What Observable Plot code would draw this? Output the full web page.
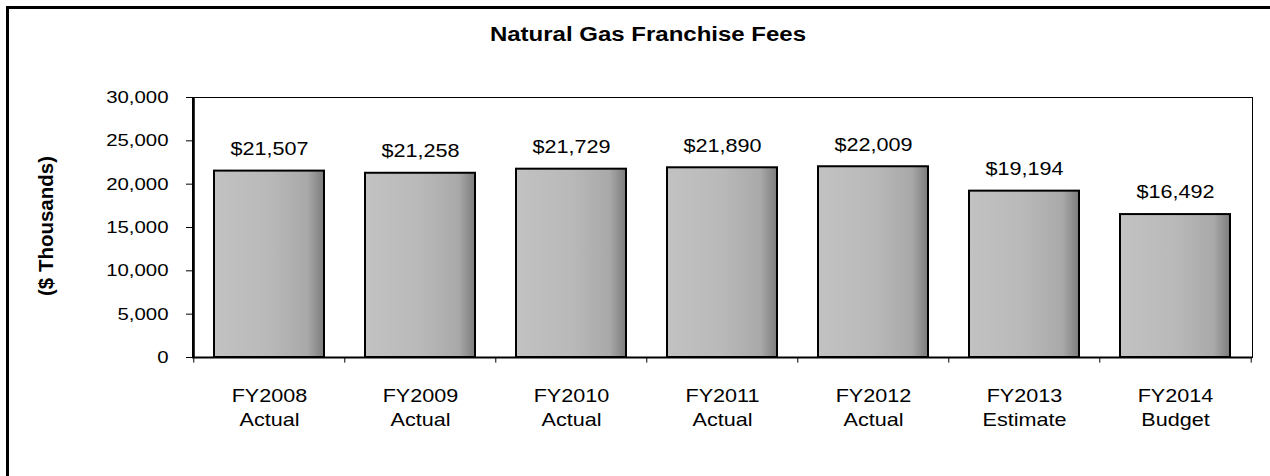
<!DOCTYPE html>
<html>
<head>
<meta charset="utf-8">
<script src="https://cdn.jsdelivr.net/npm/d3@7"></script>
<script src="https://cdn.jsdelivr.net/npm/@observablehq/plot@0.6"></script>
<style>
  html, body { margin: 0; padding: 0; background: #fff; }
  #wrap { position: relative; width: 1270px; height: 476px; overflow: hidden; font-family: "Liberation Sans", Arial, sans-serif; color: #000; }
  #border { position: absolute; left: 6px; top: 6px; width: 1300px; height: 520px; border-left: 3px solid #000; border-top: 3px solid #000; }
  #title { position: absolute; left: 648px; top: 34px; transform: translate(-50%, -50%) scaleX(1.2); font-weight: bold; font-size: 20px; white-space: nowrap; }
  #ylabel { position: absolute; left: 46px; top: 226px; transform: translate(-50%, -50%) rotate(-90deg); font-weight: bold; font-size: 20.5px; white-space: nowrap; }
  #chart { position: absolute; left: 0; top: 0; }
</style>
</head>
<body>
<div id="wrap">
  <div id="border"></div>
  <div id="chart"></div>
  <div id="title">Natural Gas Franchise Fees</div>
  <div id="ylabel">($ Thousands)</div>
</div>
<script>
// ---- data ----
const years  = ["FY2008", "FY2009", "FY2010", "FY2011", "FY2012", "FY2013", "FY2014"];
const stages = ["Actual", "Actual", "Actual", "Actual", "Actual", "Estimate", "Budget"];
const fees   = [21507, 21258, 21729, 21890, 22009, 19194, 16492];
const yTicks = [0, 5000, 10000, 15000, 20000, 25000, 30000];

const data = years.map((year, i) => ({year, stage: stages[i], fee: fees[i]}));

const W = 1270, H = 476, mL = 192, mR = 18, mT = 97, mB = 119;
const step = (W - mL - mR) / years.length;
const fmt = d3.format(",d");

const chart = Plot.plot({
  width: W, height: H,
  marginTop: mT, marginBottom: mB, marginLeft: mL, marginRight: mR,
  style: {fontFamily: "Liberation Sans, Arial, sans-serif", background: "transparent", color: "#000"},
  x: {domain: years, paddingInner: 0.27, paddingOuter: 0.135, label: null},
  y: {domain: [0, 30000], label: null},
  marks: [
    Plot.frame({stroke: "#000", strokeWidth: 1}),
    Plot.barY(data, {x: "year", y: "fee", fill: "url(#barFill)", stroke: "#000", strokeWidth: 2}),
    Plot.text(data, {x: "year", y: "fee", text: d => "$" + fmt(d.fee), dy: -22, fontSize: 18, lineAnchor: "middle", fill: "#000"}),
    Plot.axisY({ticks: yTicks, tickFormat: d => fmt(d), tickSize: 6, tickPadding: 18, fontSize: 17, label: null}),
    Plot.axisX({tickSize: 0, tickPadding: 28, fontSize: 18, lineHeight: 1.3,
      tickFormat: d => d + "\n" + stages[years.indexOf(d)], label: null}),
    Plot.ruleY([0], {stroke: "#000", strokeWidth: 2}),
    Plot.ruleX([years[0]], {x: d => d, dx: -step / 2, y1: 0, y2: 30000, stroke: "#000", strokeWidth: 2}),
    Plot.ruleX(years, {x: d => d, dx: -step / 2, y1: 0, y2: -650, stroke: "#000", strokeWidth: 1}),
    Plot.ruleX([years[years.length - 1]], {x: d => d, dx: step / 2, y1: 0, y2: -650, stroke: "#000", strokeWidth: 1})
  ]
});

// gradient for bars
const ns = "http://www.w3.org/2000/svg";
const defs = document.createElementNS(ns, "defs");
defs.innerHTML = `
  <linearGradient id="barFill" x1="0" x2="1" y1="0" y2="0">
    <stop offset="0" stop-color="#c2c2c2"/>
    <stop offset="0.5" stop-color="#b9b9b9"/>
    <stop offset="0.85" stop-color="#a9a9a9"/>
    <stop offset="1" stop-color="#7c7c7c"/>
  </linearGradient>`;
chart.insertBefore(defs, chart.firstChild);

// widen glyphs horizontally to match the reference's stretched type
chart.querySelectorAll("text").forEach(t => {
  const tr = t.getAttribute("transform");
  if (tr && !tr.includes("rotate")) t.setAttribute("transform", tr + " scale(1.2,1)");
});

document.getElementById("chart").appendChild(chart);
</script>
</body>
</html>
